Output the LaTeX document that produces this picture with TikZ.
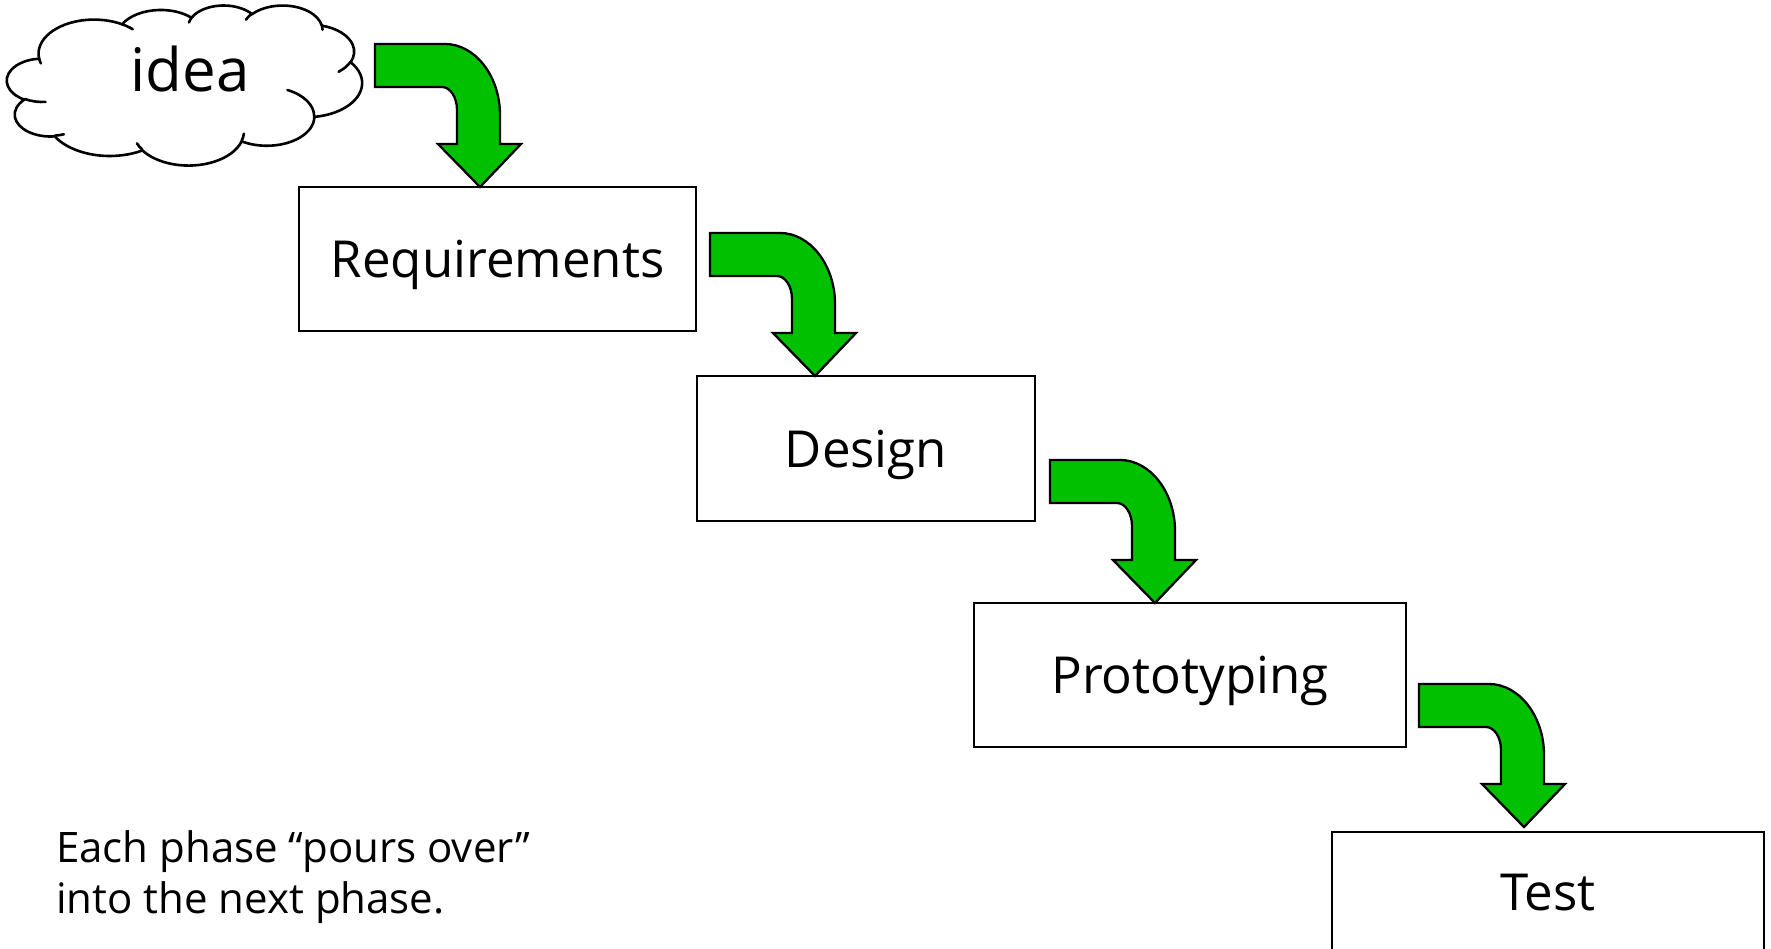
\documentclass[tikz,border=0pt]{standalone}
\usepackage{fontspec}
\setmainfont{Open Sans}
\usetikzlibrary{calc}

\definecolor{pourgreen}{RGB}{0,192,0}

% One lobe of the cloud outline: elliptical arc with radii #1,#2, starting at
% the true (not parametric) angle #3 and sweeping #4 degrees.
\newcommand\cloudarc[4]{arc[x radius=#1, y radius=#2,
  start angle={atan2(#1*sin(#3),#2*cos(#3))},
  delta angle={mod(atan2(#1*sin(#3+#4),#2*cos(#3+#4))-atan2(#1*sin(#3),#2*cos(#3))+720,360)}]}

\tikzset{
  phase/.style={draw, line width=2.6pt, rectangle, inner sep=0pt, outer sep=0pt,
    font=\fontsize{51}{60}\selectfont, text height=37pt, text depth=0pt},
  cloudline/.style={draw=black, fill=white, line width=2.6pt, line join=round},
  hookline/.style={draw=black, line width=2.6pt, line cap=round},
  pourarrow/.style={draw=black, fill=pourgreen, line width=2.3pt, line join=miter},
  % bent block arrow, origin at its tip
  pour/.pic={
    \draw[pourarrow] (-105,143) -- (-35,143)
      .. controls (-5,143) and (20,111) .. (20,72) -- (20,43) -- (41,43)
      -- (0,0) -- (-42,43) -- (-23,43) -- (-23,77)
      .. controls (-23,90) and (-30,100) .. (-38,100) -- (-105,100) -- cycle;
  }
}

\begin{document}
\begin{tikzpicture}[x=1pt, y=1pt]
\useasboundingbox (0,0) rectangle (1771,-949);

% cloud
\begin{scope}[shift={(7,-5)}, xscale=355/432, yscale=-160/432]
  \path[cloudline] (39.00,143.70)
    \cloudarc{67.53}{91.90}{-190.48748}{123.78053}
    \cloudarc{53.33}{72.67}{-144.10238}{89.94523}
    \cloudarc{43.65}{59.45}{-145.80792}{99.72302}
    \cloudarc{48.57}{65.95}{-130.98607}{117.24173}
    \cloudarc{53.33}{72.73}{-78.70888}{109.02692}
    \cloudarc{67.75}{92.20}{-46.26725}{130.26900}
    \cloudarc{57.85}{78.67}{0.62502}{114.03333}
    \cloudarc{67.52}{92.15}{22.45160}{115.17255}
    \cloudarc{77.20}{105.43}{66.24263}{75.71102}
    \cloudarc{43.60}{59.18}{-274.94208}{146.73557}
    \cloudarc{43.45}{59.45}{-246.82850}{152.51885}
    -- cycle;
  \path[hookline] (46.93,261.77) \cloudarc{43.45}{59.45}{86.74200}{26.42950};
  \path[hookline] (69.28,348.99) \cloudarc{43.60}{59.18}{73.61047}{11.44747};
  \path[hookline] (164.78,390.90) \cloudarc{67.52}{92.15}{137.62415}{14.08110};
  \path[hookline] (288.27,347.51) \cloudarc{67.52}{92.15}{6.45327}{15.99835};
  \path[hookline] (341.29,229.54) \cloudarc{57.85}{78.67}{-70.29235}{70.91737};
  \path[hookline] (417.98,153.54) \cloudarc{53.33}{72.73}{30.31803}{27.75150};
  \path[hookline] (383.24,54.26) \cloudarc{48.57}{65.95}{-13.74433}{14.85890};
  \path[hookline] (290.78,39.52) \cloudarc{48.57}{65.95}{-149.18145}{18.19537};
  \path[hookline] (221.41,47.20) \cloudarc{43.65}{59.45}{-163.49427}{17.68635};
  \path[hookline] (140.00,51.92) \cloudarc{67.53}{91.90}{-66.70695}{12.31935};
  \path[hookline] (41.27,157.89) \cloudarc{67.53}{91.90}{157.65435}{11.85393};
\end{scope}
\node[anchor=base, inner sep=0pt, font=\fontsize{60}{70}\selectfont] (idea) at (190,-92) {idea};

% phases
\node[phase, minimum width=397pt, minimum height=144pt] (req) at (497.5,-259) {Requirements};
\node[phase, minimum width=338pt, minimum height=145pt] (design) at (866,-448.5) {Design};
\node[phase, minimum width=432pt, minimum height=144pt] (proto) at (1190,-675) {Prototyping};
% last box runs off the bottom edge; its label sits above the box centre
\node[phase, minimum width=432pt, minimum height=145pt, text depth=26pt] (test) at (1548,-904.5) {Test};

% arrows pouring into each phase
\pic at ($(req.north west)+(181,0)$) {pour};
\pic at ($(design.north west)+(118,0)$) {pour};
\pic at ($(proto.north west)+(181,0)$) {pour};
\pic at ($(test.north west)+(192,5)$) {pour};

% note (anchored on the baseline of its last line)
\node[anchor=base west, inner sep=0pt, align=left, font=\fontsize{42}{51}\selectfont] (note) at (56,-913)
  {Each phase “pours over”\\into the next phase.};
\end{tikzpicture}
\end{document}
